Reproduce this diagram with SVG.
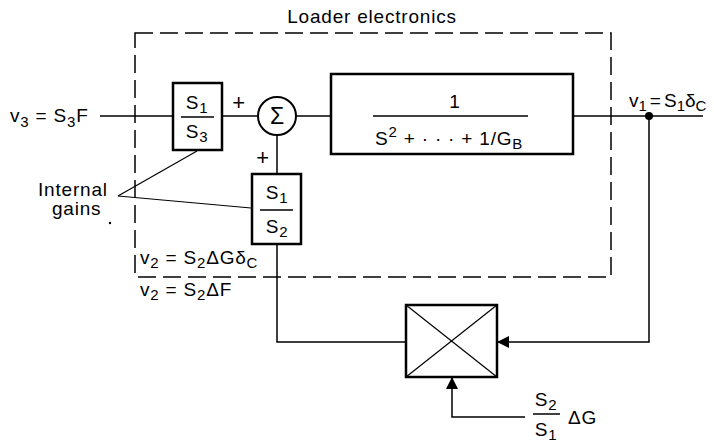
<svg xmlns="http://www.w3.org/2000/svg" width="714" height="444" viewBox="0 0 714 444">
<style>
text{font-family:"Liberation Sans",Arial,sans-serif;font-size:19px;letter-spacing:0.8px;fill:#000}
.c{text-anchor:middle}
.sub{font-size:15px}
.ln{stroke:#000;stroke-width:1.5;fill:none}
.bx{stroke:#000;stroke-width:2.5;fill:#fff}
.th{stroke:#000;stroke-width:1.2;fill:none}
.dash{stroke:#000;stroke-width:1.5;fill:none;stroke-dasharray:18 7}
</style>
<defs>
<marker id="ah" viewBox="0 0 12 12" refX="12" refY="6" markerWidth="12" markerHeight="12" markerUnits="userSpaceOnUse" orient="auto">
<path d="M0,0 L12,6 L0,12 z" fill="#000"/>
</marker>
</defs>
<g id="boundary">
<rect class="dash" x="135" y="33" width="476" height="244"/>
<text class="c" x="372" y="23">Loader electronics</text>
</g>
<g id="connectors">
<line class="ln" x1="100" y1="116" x2="173" y2="116"/>
<line class="ln" x1="222" y1="116" x2="257" y2="116"/>
<line class="ln" x1="296" y1="116" x2="331" y2="116"/>
<line class="ln" x1="277" y1="135" x2="277" y2="174"/>
<line class="ln" x1="573" y1="116" x2="703" y2="116"/>
<circle cx="649" cy="116" r="4" fill="#000"/>
<polyline class="ln" points="649,116 649,342 497,342" marker-end="url(#ah)"/>
<polyline class="ln" points="406,342 277,342 277,244"/>
<polyline class="ln" points="525,417 452,417 452,377" marker-end="url(#ah)"/>
<line class="th" x1="118" y1="196" x2="197" y2="151"/>
<line class="th" x1="118" y1="196" x2="251" y2="208"/>
</g>
<g id="inputLabel">
<text x="10" y="122">v<tspan class="sub" dy="5">3</tspan><tspan dy="-5"> = S</tspan><tspan class="sub" dy="5">3</tspan><tspan dy="-5">F</tspan></text>
</g>
<g id="gainS1S3">
<rect class="bx" x="173" y="83" width="49" height="67"/>
<text class="c" x="197" y="109">S<tspan class="sub" dy="4">1</tspan></text>
<line class="ln" x1="181" y1="117" x2="214" y2="117"/>
<text class="c" x="197" y="138">S<tspan class="sub" dy="4">3</tspan></text>
</g>
<g id="sum">
<circle class="ln" cx="277" cy="116" r="19" style="stroke-width:2"/>
<text class="c" x="277" y="124" style="font-size:23px;letter-spacing:0">Σ</text>
<text class="c" x="239" y="110" style="font-size:22px">+</text>
<text class="c" x="263" y="165" style="font-size:22px">+</text>
</g>
<g id="gainS1S2">
<rect class="bx" x="252" y="174" width="49" height="70"/>
<text class="c" x="277" y="199">S<tspan class="sub" dy="4">1</tspan></text>
<line class="ln" x1="260" y1="210" x2="293" y2="210"/>
<text class="c" x="277" y="233">S<tspan class="sub" dy="4">2</tspan></text>
</g>
<g id="plant">
<rect class="bx" x="331" y="74" width="242" height="80"/>
<text class="c" x="455" y="108">1</text>
<line class="ln" x1="373" y1="116" x2="528" y2="116"/>
<text x="375" y="145">S<tspan class="sub" dy="-8">2</tspan><tspan dy="8"> + · · · + 1/G</tspan><tspan class="sub" dy="4">B</tspan></text>
</g>
<g id="outputLabel">
<text x="629" y="107" style="letter-spacing:0">v<tspan class="sub" dy="4">1</tspan><tspan dy="-4" dx="3">=</tspan><tspan dx="3">S</tspan><tspan class="sub" dy="4">1</tspan><tspan dy="-4">δ</tspan><tspan class="sub" dy="4">C</tspan></text>
</g>
<g id="internalGains">
<text x="38" y="196">Internal</text>
<text x="52" y="215">gains</text>
<circle cx="110" cy="223" r="1.2" fill="#000"/>
</g>
<g id="v2labels">
<text x="140" y="264">v<tspan class="sub" dy="4">2</tspan><tspan dy="-4"> = S</tspan><tspan class="sub" dy="4">2</tspan><tspan dy="-4">ΔGδ</tspan><tspan class="sub" dy="4">C</tspan></text>
<text x="140" y="296">v<tspan class="sub" dy="4">2</tspan><tspan dy="-4"> = S</tspan><tspan class="sub" dy="4">2</tspan><tspan dy="-4">ΔF</tspan></text>
</g>
<g id="multiplier">
<rect class="bx" x="406" y="305" width="91" height="72"/>
<line class="th" x1="406" y1="305" x2="497" y2="377"/>
<line class="th" x1="497" y1="305" x2="406" y2="377"/>
</g>
<g id="gainInput">
<text class="c" x="546" y="406">S<tspan class="sub" dy="4">2</tspan></text>
<line class="ln" x1="533" y1="414" x2="560" y2="414"/>
<text class="c" x="546" y="436">S<tspan class="sub" dy="4">1</tspan></text>
<text x="568" y="424">ΔG</text>
</g>
</svg>
